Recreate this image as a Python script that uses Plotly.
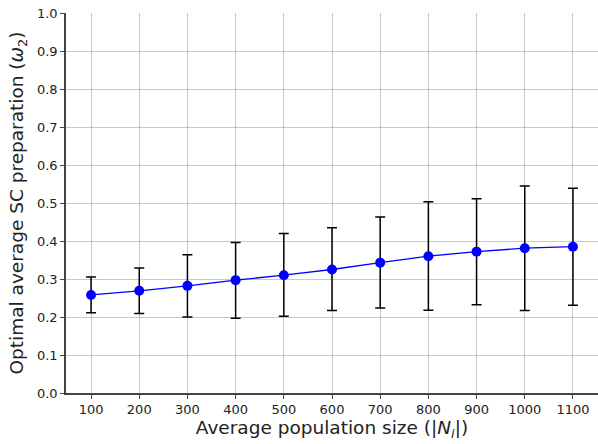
import plotly.graph_objects as go

pop_size = [100, 200, 300, 400, 500, 600, 700, 800, 900, 1000, 1100]
mean_w2 = [0.258, 0.269, 0.282, 0.297, 0.310, 0.325, 0.343, 0.360, 0.372, 0.381, 0.385]
upper_w2 = [0.305, 0.329, 0.364, 0.396, 0.420, 0.435, 0.463, 0.503, 0.511, 0.545, 0.539]
lower_w2 = [0.211, 0.209, 0.200, 0.197, 0.202, 0.217, 0.224, 0.218, 0.232, 0.217, 0.231]
y_ticks = [0.0, 0.1, 0.2, 0.3, 0.4, 0.5, 0.6, 0.7, 0.8, 0.9, 1.0]

err_plus = [u - m for u, m in zip(upper_w2, mean_w2)]
err_minus = [m - l for m, l in zip(mean_w2, lower_w2)]

fig = go.Figure()
fig.add_trace(go.Scatter(
    x=pop_size, y=mean_w2, mode="lines+markers",
    line=dict(color="#0000ff", width=1.3),
    marker=dict(color="#0000ff", size=10),
    error_y=dict(type="data", symmetric=False, array=err_plus, arrayminus=err_minus,
                 color="black", thickness=1.5, width=5),
    showlegend=False,
))

grid = "rgba(110,110,110,0.38)"
fig.update_layout(
    width=598, height=444,
    margin=dict(l=66, r=0, t=13, b=51),
    paper_bgcolor="white", plot_bgcolor="white",
    font=dict(family="DejaVu Sans", color="#222", size=13),
    xaxis=dict(
        range=[48, 1152], tickvals=pop_size, ticktext=[str(v) for v in pop_size],
        showgrid=True, gridcolor=grid, gridwidth=1,
        showline=True, linecolor="#444", linewidth=1.5,
        ticks="outside", ticklen=4, tickcolor="#444", zeroline=False,
        automargin=False, ticklabeloverflow="allow",
        title=dict(text="Average population size (|<i>N</i><sub><i>i</i></sub>|)",
                   font=dict(size=18.5), standoff=4),
    ),
    yaxis=dict(
        range=[0, 1.0], tickvals=y_ticks, ticktext=[f"{v:.1f}" for v in y_ticks],
        showgrid=True, gridcolor=grid, gridwidth=1,
        showline=True, linecolor="#444", linewidth=1.5,
        ticks="outside", ticklen=4, tickcolor="#444", zeroline=False,
        automargin=False, ticklabeloverflow="allow",
        title=dict(text="Optimal average SC preparation (<i>ω</i><sub>2</sub>)",
                   font=dict(size=18.5), standoff=8),
    ),
)

# remove the default 8px page margin so the figure fills the window exactly
fig.write_html("out.html", config={"displayModeBar": False},
               post_script="document.body.style.margin='0';")
